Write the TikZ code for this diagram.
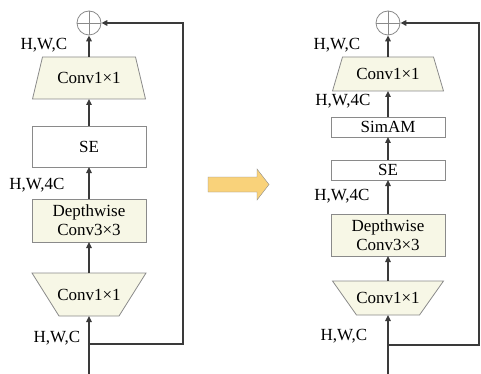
\documentclass[tikz,border=0pt]{standalone}
\usepackage{fontspec}
\setmainfont{Liberation Serif}
\usepackage{xcolor}
\usetikzlibrary{positioning,arrows.meta,shapes.geometric,calc,backgrounds}
\definecolor{boxfill}{HTML}{F7F7E6}
\definecolor{boxline}{HTML}{8A8A8A}
\definecolor{wire}{HTML}{3A3A3A}
\definecolor{bigarrow}{HTML}{F9D27A}
\tikzset{
  blk/.style   ={rectangle, draw=boxline, thick, fill=white, align=center,
                 inner sep=0pt, outer sep=0pt, minimum width=114pt},
  yblk/.style  ={blk, fill=boxfill},
  tbox/.style  ={rectangle, inner sep=0pt, outer sep=0pt},
  trapln/.style={draw=boxline, thick, fill=boxfill},
  addc/.style  ={circle, draw=boxline, thick, minimum size=24pt, inner sep=0pt},
  dim/.style   ={inner sep=0pt},
  arr/.style   ={-{Triangle[length=6pt,width=5.5pt]}, line width=1.4pt, draw=wire},
}
\begin{document}
\begin{tikzpicture}[x=1pt, y=-1pt, font=\fontsize{17}{19}\selectfont]
  \useasboundingbox (0,0) rectangle (481,374);

  % left block
  \node[addc] (addL) at (89,23) {};
  \draw[boxline, thick] (addL.north) -- (addL.south) (addL.west) -- (addL.east);
  \node[tbox, minimum width=113pt, minimum height=42pt] (c2L) at (89,78) {Conv1×1};
  \node[blk, minimum height=41pt] (seL) at (89,146.5) {SE};
  \node[yblk, minimum height=43pt] (dwL) at (89,220.5) {Depthwise\\Conv3×3};
  \node[tbox, minimum width=114pt, minimum height=43pt] (c1L) at (89,294.5) {Conv1×1};
  \begin{scope}[on background layer]
    \path[trapln] ($(c2L.north west)+(10,0)$) -- ($(c2L.north east)+(-10,0)$)
         -- (c2L.south east) -- (c2L.south west) -- cycle;
    \path[trapln] (c1L.north west) -- (c1L.north east)
         -- ($(c1L.south east)+(-27,0)$) -- ($(c1L.south west)+(27,0)$) -- cycle;
  \end{scope}

  \coordinate (inL) at (89,374);
  \coordinate (brL) at (89,344);
  \coordinate (cornL) at (183,23);
  \draw[arr] (inL) -- (c1L.south);
  \draw[arr] (c1L.north) -- (dwL.south);
  \draw[arr] (dwL.north) -- (seL.south);
  \draw[arr] (seL.north) -- (c2L.south);
  \draw[arr] (c2L.north) -- (addL.south);
  \draw[arr] (brL) -| (cornL) -- (addL.east);

  \node[dim] (dL1) at (44,45) {H,W,C};
  \node[dim] (dL2) at (37,185) {H,W,4C};
  \node[dim] (dL3) at (57,338) {H,W,C};

  % transition arrow
  \filldraw[fill=bigarrow, draw=boxline] (208,177) -- (257,177) -- (257,169)
       -- (269,184.5) -- (257,200) -- (257,192) -- (208,192) -- cycle;

  % right block
  \node[addc] (addR) at (388,23) {};
  \draw[boxline, thick] (addR.north) -- (addR.south) (addR.west) -- (addR.east);
  \node[tbox, minimum width=111pt, minimum height=34pt] (c2R) at (388,74) {Conv1×1};
  \node[blk, minimum height=20pt] (simR) at (388,127) {SimAM};
  \node[blk, minimum height=20pt] (seR) at (388,170) {SE};
  \node[yblk, minimum height=42pt] (dwR) at (388,235) {Depthwise\\Conv3×3};
  \node[tbox, minimum width=111pt, minimum height=34pt] (c1R) at (388,298) {Conv1×1};
  \begin{scope}[on background layer]
    \path[trapln] ($(c2R.north west)+(10,0)$) -- ($(c2R.north east)+(-10,0)$)
         -- (c2R.south east) -- (c2R.south west) -- cycle;
    \path[trapln] (c1R.north west) -- (c1R.north east)
         -- ($(c1R.south east)+(-24,0)$) -- ($(c1R.south west)+(24,0)$) -- cycle;
  \end{scope}

  \coordinate (inR) at (388,374);
  \coordinate (brR) at (388,345);
  \coordinate (cornR) at (479,23);
  \draw[arr] (inR) -- (c1R.south);
  \draw[arr] (c1R.north) -- (dwR.south);
  \draw[arr] (dwR.north) -- (seR.south);
  \draw[arr] (seR.north) -- (simR.south);
  \draw[arr] (simR.north) -- (c2R.south);
  \draw[arr] (c2R.north) -- (addR.south);
  \draw[arr] (brR) -| (cornR) -- (addR.east);

  \node[dim] (dR1) at (337,45) {H,W,C};
  \node[dim] (dR2) at (343,101) {H,W,4C};
  \node[dim] (dR3) at (342,196) {H,W,4C};
  \node[dim] (dR4) at (344,336) {H,W,C};
\end{tikzpicture}
\end{document}
